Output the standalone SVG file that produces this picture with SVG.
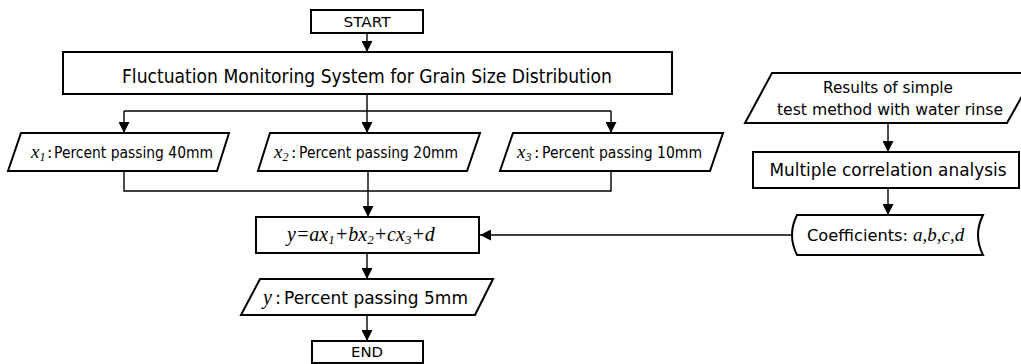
<svg xmlns="http://www.w3.org/2000/svg" width="1021" height="364" viewBox="0 0 1021 364">
<defs>
<style>
.box{fill:#fff;stroke:#000;stroke-width:2}
.con{fill:none;stroke:#000;stroke-width:1.4}
.t{font-family:"DejaVu Sans","Liberation Sans",sans-serif;fill:#000}
.m{font-family:"Liberation Serif","Times New Roman",serif;font-style:italic;fill:#000}
</style>
<marker id="ah" markerUnits="userSpaceOnUse" markerWidth="11" markerHeight="11" viewBox="0 0 11 11" refX="11" refY="5.5" orient="auto">
<path d="M0,0 L11,5.5 L0,11 Z" fill="#000"/>
</marker>
</defs>
<rect width="1021" height="364" fill="#fff"/>
<g id="connectors">
<path class="con" d="M367,33 V52" marker-end="url(#ah)"/>
<path class="con" d="M367,94 V111"/>
<path class="con" d="M124,111 H611"/>
<path class="con" d="M124,111 V133" marker-end="url(#ah)"/>
<path class="con" d="M367,111 V133" marker-end="url(#ah)"/>
<path class="con" d="M611,111 V133" marker-end="url(#ah)"/>
<path class="con" d="M124,171 V191 H611 V171"/>
<path class="con" d="M368,171 V217" marker-end="url(#ah)"/>
<path class="con" d="M888,123 V152" marker-end="url(#ah)"/>
<path class="con" d="M888,188 V215" marker-end="url(#ah)"/>
<path class="con" d="M792,235 H480" marker-end="url(#ah)"/>
<path class="con" d="M367,253 V279" marker-end="url(#ah)"/>
<path class="con" d="M367,315 V341" marker-end="url(#ah)"/>
</g>
<g id="start">
<rect class="box" x="311" y="10" width="112" height="23"/>
<text class="t" x="367" y="27" font-size="14" text-anchor="middle" textLength="47" lengthAdjust="spacingAndGlyphs">START</text>
</g>
<g id="system">
<rect class="box" x="63" y="52" width="609" height="42"/>
<text class="t" x="367" y="83" font-size="20" text-anchor="middle" textLength="490" lengthAdjust="spacingAndGlyphs">Fluctuation Monitoring System for Grain Size Distribution</text>
</g>
<g id="x1">
<polygon class="box" points="21,133 229,133 217,171 8,171"/>
<text class="m" x="31" y="158" font-size="19">x<tspan font-size="12" dy="3">1</tspan></text>
<text class="t" x="47" y="158" font-size="16">:</text>
<text class="t" x="54" y="158" font-size="16" textLength="159" lengthAdjust="spacingAndGlyphs">Percent passing 40mm</text>
</g>
<g id="x2">
<polygon class="box" points="270,133 480,133 467,171 258,171"/>
<text class="m" x="274" y="158" font-size="19">x<tspan font-size="12" dy="3">2</tspan></text>
<text class="t" x="291" y="158" font-size="16">:</text>
<text class="t" x="299" y="158" font-size="16" textLength="159" lengthAdjust="spacingAndGlyphs">Percent passing 20mm</text>
</g>
<g id="x3">
<polygon class="box" points="513,133 723,133 710,171 500,171"/>
<text class="m" x="517" y="158" font-size="19">x<tspan font-size="12" dy="3">3</tspan></text>
<text class="t" x="534" y="158" font-size="16">:</text>
<text class="t" x="542" y="158" font-size="16" textLength="160" lengthAdjust="spacingAndGlyphs">Percent passing 10mm</text>
</g>
<g id="formula">
<rect class="box" x="256" y="217" width="223" height="36"/>
<text class="m" x="287" y="241" font-size="20">y=ax<tspan font-size="13" dy="3">1</tspan><tspan dy="-3">+bx</tspan><tspan font-size="13" dy="3">2</tspan><tspan dy="-3">+cx</tspan><tspan font-size="13" dy="3">3</tspan><tspan dy="-3">+d</tspan></text>
</g>
<g id="output">
<polygon class="box" points="260,279 493,279 475,315 241,315"/>
<text class="m" x="263" y="304" font-size="20">y</text>
<text class="t" x="275" y="304" font-size="18">:</text>
<text class="t" x="284" y="304" font-size="18" textLength="184" lengthAdjust="spacingAndGlyphs">Percent passing 5mm</text>
</g>
<g id="end">
<rect class="box" x="312" y="341" width="111" height="22"/>
<text class="t" x="367" y="357" font-size="14" text-anchor="middle" textLength="32" lengthAdjust="spacingAndGlyphs">END</text>
</g>
<g id="results">
<polygon class="box" points="772,73 1035,73 1007,123 745,123"/>
<text class="t" x="888" y="93" font-size="16" text-anchor="middle" textLength="130" lengthAdjust="spacingAndGlyphs">Results of simple</text>
<text class="t" x="890" y="115" font-size="16" text-anchor="middle" textLength="226" lengthAdjust="spacingAndGlyphs">test method with water rinse</text>
</g>
<g id="analysis">
<rect class="box" x="753" y="152" width="266" height="36"/>
<text class="t" x="888" y="176" font-size="18" text-anchor="middle" textLength="237" lengthAdjust="spacingAndGlyphs">Multiple correlation analysis</text>
</g>
<g id="coefficients">
<path class="box" d="M797,215 H983 Q973,235 983,255 H797 Q787,235 797,215 Z"/>
<text class="t" x="807" y="241" font-size="15" textLength="101" lengthAdjust="spacingAndGlyphs">Coefficients:</text>
<text class="m" x="913" y="241" font-size="19">a,b,c,d</text>
</g>
</svg>
